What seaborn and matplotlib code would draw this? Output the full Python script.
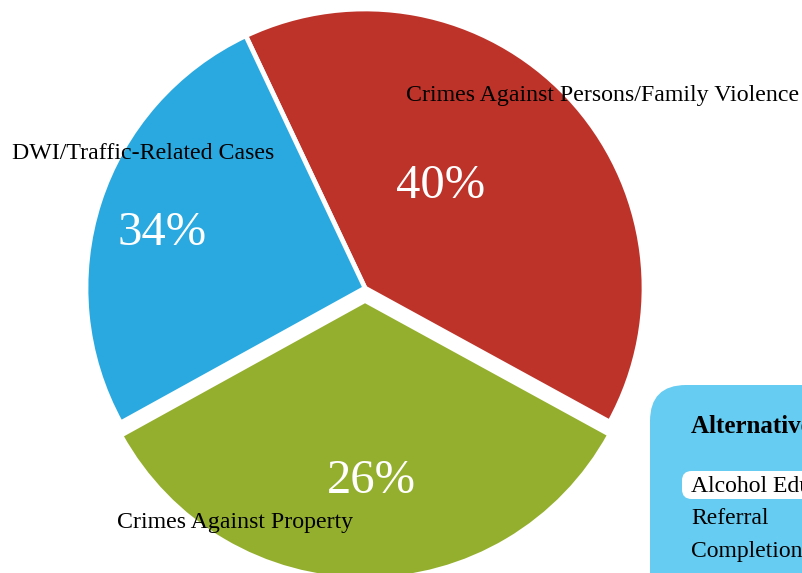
import matplotlib.pyplot as plt
import seaborn as sns
from matplotlib.patches import FancyBboxPatch

# Data
slice_names = ['Crimes Against Persons/Family Violence', 'DWI/Traffic-Related Cases', 'Crimes Against Property']
slice_sizes = [40, 26, 34]
pct_labels = ['40%', '34%', '26%']
slice_colors = ['#BE3329', '#29A9E0', '#93AF2D']

legend_title = 'Alternative Programs'
legend_items = ['Alcohol Education', 'Referral', 'Completion']

# Layout (pixels -> data units)
R_PX = 279
CX, CY = 365, 288  # pie centre, pixels from top-left
W, H = 803, 573

# label positions relative to pie centre, in radius units
pct_pos = [(0.272, 0.366), (-0.728, 0.196), (0.022, -0.691)]
name_pos = [(0.147, 0.689), (-1.265, 0.483), (-0.889, -0.839)]


def main():
    sns.set_theme(style='white')
    plt.rcParams['font.family'] = ['Liberation Serif', 'DejaVu Serif']
    plt.rcParams['text.color'] = 'black'

    fig = plt.figure(figsize=(W / 100, H / 100), dpi=100)
    ax = fig.add_axes([0, 0, 1, 1])

    ax.pie(slice_sizes, colors=slice_colors, startangle=-28.7,
           explode=[0, 0, 0.045],
           wedgeprops=dict(edgecolor='white', linewidth=3.4))

    ax.set_xlim(-CX / R_PX, (W - CX) / R_PX)
    ax.set_ylim(-(H - CY) / R_PX, CY / R_PX)
    ax.set_aspect('auto')
    ax.axis('off')

    for txt, (x, y) in zip(pct_labels, pct_pos):
        ax.text(x, y, txt, color='white', fontsize=35, ha='center', va='center')
    for txt, (x, y) in zip(slice_names, name_pos):
        ax.text(x, y, txt, color='black', fontsize=17.2, ha='left', va='center')

    # legend panel, clipped at the figure edge like the reference
    box = FancyBboxPatch((650 / W, -0.2), 0.4, 188 / H + 0.2,
                         boxstyle='round,pad=0,rounding_size=0.045',
                         transform=fig.transFigure, facecolor='#66CCF2',
                         edgecolor='none', mutation_aspect=W / H)
    fig.patches.append(box)

    fig.text(691 / W, 1 - 427 / H, legend_title, fontsize=18, fontweight='bold',
             ha='left', va='center', color='black')
    hl = FancyBboxPatch((682 / W, 1 - 499 / H), 0.3, 28 / H,
                        boxstyle='round,pad=0,rounding_size=0.012',
                        transform=fig.transFigure, facecolor='white',
                        edgecolor='none', mutation_aspect=W / H)
    fig.patches.append(hl)
    for i, item in enumerate(legend_items):
        fig.text(691 / W, 1 - (487 + 32 * i) / H, item, fontsize=17,
                 ha='left', va='center', color='black')

    fig.savefig('out.png', dpi=100)
    plt.close(fig)


if __name__ == '__main__':
    main()
